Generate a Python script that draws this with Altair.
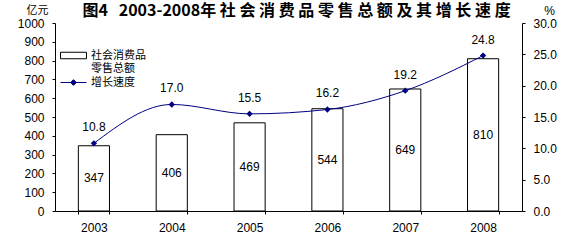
import altair as alt
import pandas as pd

years = ["2003", "2004", "2005", "2006", "2007", "2008"]
sales = [347, 406, 469, 544, 649, 810]
growth = [10.8, 17.0, 15.5, 16.2, 19.2, 24.8]
sales_label = "社会消费品零售总额"
growth_label = "增长速度"
title_text = "图4\u00a0\u00a0\u00a02003-2008年 社 会 消 费 品 零 售 总 额 及 其 增 长 速 度"

df = pd.DataFrame({"year": years, "sales": sales, "growth": growth,
                   "s": sales_label, "g": growth_label})

NUM = "Liberation Sans"
CJK = "Noto Sans CJK SC"
NAVY = "#000080"

x = alt.X("year:N", title=None,
          scale=alt.Scale(paddingInner=0.6, paddingOuter=0.3),
          axis=alt.Axis(labelAngle=0, labelFont=NUM, labelFontSize=12, labelColor="black",
                        labelPadding=8, domainColor="black", tickColor="black",
                        tickBand="extent", tickSize=3, grid=False))

left_axis = alt.Axis(values=list(range(0, 1001, 100)), format="d", title="亿元", titleAngle=0,
                     titleFont=CJK, titleFontSize=11, titleFontWeight="normal",
                     titleAlign="center", titleBaseline="middle", titleX=-18, titleY=-13,
                     titleColor="black",
                     labelFont=NUM, labelFontSize=12, labelColor="black", labelPadding=8,
                     domainColor="black", tickColor="black", tickSize=3, grid=False)
left_scale = alt.Scale(domain=[0, 1000])

right_axis = alt.Axis(orient="right", values=list(range(0, 31, 5)), format=".1f", title="%",
                      titleAngle=0, titleFont=NUM, titleFontSize=12, titleFontWeight="normal",
                      titleAlign="center", titleBaseline="middle", titleX=27, titleY=-13,
                      titleColor="black",
                      labelFont=NUM, labelFontSize=12, labelColor="black", labelPadding=8,
                      domainColor="black", tickColor="black", tickSize=3, grid=False)
right_scale = alt.Scale(domain=[0, 30])

base = alt.Chart(df)

bars = base.mark_bar(stroke="black", strokeWidth=1).encode(
    x=x,
    y=alt.Y("sales:Q", scale=left_scale, axis=left_axis),
    fill=alt.Fill("s:N", scale=alt.Scale(domain=[sales_label], range=["white"]),
                  legend=alt.Legend(title=None, orient="none", legendX=5, legendY=19,
                                    symbolType="M-1,-0.25H1V0.25H-1Z", symbolSize=676,
                                    symbolStrokeColor="black", symbolStrokeWidth=1,
                                    labelFont=CJK, labelFontSize=11, labelColor="black",
                                    labelExpr="datum.label == '社会消费品零售总额' ? ['社会消费品', '零售总额'] : datum.label",
                                    padding=0)),
)

bar_text = base.transform_calculate(mid="datum.sales / 2").mark_text(
    font=NUM, fontSize=12, color="black", baseline="middle"
).encode(x=x, y=alt.Y("mid:Q", scale=left_scale, axis=left_axis), text=alt.Text("sales:Q"))

left = alt.layer(bars, bar_text)

line = base.mark_line(interpolate="monotone", strokeWidth=1).encode(
    x=x, y=alt.Y("growth:Q", scale=right_scale, axis=right_axis),
    stroke=alt.Stroke("g:N", scale=alt.Scale(domain=[growth_label], range=[NAVY]),
                      legend=alt.Legend(title=None, orient="none", legendX=5, legendY=46,
                                        symbolType="M-1,0H1M-0.22,0L0,-0.22L0.22,0L0,0.22Z",
                                        symbolSize=676, symbolFillColor=NAVY,
                                        symbolStrokeColor=NAVY, symbolStrokeWidth=1,
                                        labelFont=CJK, labelFontSize=11, labelColor="black",
                                        padding=0)),
)
points = base.mark_point(shape="diamond", filled=True, size=40, color=NAVY, opacity=1).encode(
    x=x, y=alt.Y("growth:Q", scale=right_scale, axis=right_axis))
line_text = base.mark_text(font=NUM, fontSize=12, color="black", dy=-16).encode(
    x=x, y=alt.Y("growth:Q", scale=right_scale, axis=right_axis),
    text=alt.Text("growth:Q", format=".1f"))

right = alt.layer(line, points, line_text)

chart = alt.layer(left, right).resolve_scale(y="independent").properties(
    width=467, height=188,
    autosize=alt.AutoSizeParams(type="none"),
    padding={"left": 55, "top": 23, "right": 58, "bottom": 34},
    title=alt.TitleParams(title_text, font=CJK, fontSize=16, fontWeight="bold", color="black",
                          anchor="middle", frame="group", offset=-15, dx=8),
    background="white",
).configure_view(stroke=None)

chart.save("out.html", embed_options={"renderer": "svg", "actions": False})
